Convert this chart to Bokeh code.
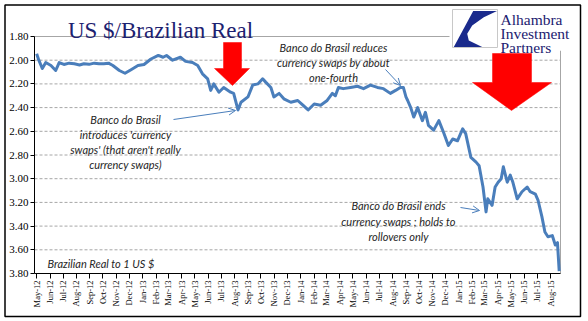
import math
import pandas as pd
from bokeh.plotting import figure
from bokeh.models import (Range1d, FixedTicker, DatetimeTickFormatter, PrintfTickFormatter,
                          Label, Arrow, OpenHead)
from bokeh.embed import file_html
from bokeh.resources import INLINE

# ---------------- data ----------------
dates = [
    "2012-05-01", "2012-05-06", "2012-05-14", "2012-05-22", "2012-06-03", "2012-06-14",
    "2012-06-22", "2012-07-03", "2012-07-15", "2012-07-27", "2012-08-08", "2012-08-18",
    "2012-08-30", "2012-09-11", "2012-09-22", "2012-10-03", "2012-10-14", "2012-10-24",
    "2012-11-08", "2012-11-21", "2012-12-05", "2012-12-21", "2013-01-04", "2013-01-20",
    "2013-02-06", "2013-02-17", "2013-02-25", "2013-03-11", "2013-03-29", "2013-04-10",
    "2013-04-26", "2013-05-08", "2013-05-19", "2013-05-31", "2013-06-07", "2013-06-14",
    "2013-06-26", "2013-07-07", "2013-07-23", "2013-07-30", "2013-08-09", "2013-08-16",
    "2013-09-01", "2013-09-12", "2013-09-24", "2013-10-05", "2013-10-12", "2013-10-24",
    "2013-10-31", "2013-11-12", "2013-11-23", "2013-12-09", "2013-12-25", "2014-01-06",
    "2014-01-18", "2014-02-01", "2014-02-16", "2014-03-03", "2014-03-15", "2014-03-22",
    "2014-03-29", "2014-04-09", "2014-04-26", "2014-05-12", "2014-05-26", "2014-06-11",
    "2014-06-27", "2014-07-11", "2014-07-27", "2014-08-08", "2014-08-19", "2014-08-26",
    "2014-09-01", "2014-09-05", "2014-09-12", "2014-09-19", "2014-09-28", "2014-10-09",
    "2014-10-16", "2014-10-23", "2014-11-04", "2014-11-16", "2014-11-27", "2014-12-08",
    "2014-12-18", "2014-12-29", "2015-01-10", "2015-01-17", "2015-01-29", "2015-02-10",
    "2015-02-17", "2015-02-26", "2015-03-05", "2015-03-09", "2015-03-19", "2015-03-26",
    "2015-04-02", "2015-04-09", "2015-04-14", "2015-04-23", "2015-04-30", "2015-05-06",
    "2015-05-16", "2015-05-27", "2015-06-08", "2015-06-15", "2015-06-27", "2015-07-03",
    "2015-07-12", "2015-07-19", "2015-07-26", "2015-08-05", "2015-08-12", "2015-08-17",
    "2015-08-21",
]
rates = [
    1.946, 2.000, 2.070, 2.020, 2.045, 2.087,
    2.020, 2.036, 2.025, 2.030, 2.040, 2.030,
    2.035, 2.025, 2.030, 2.030, 2.025, 2.045,
    2.087, 2.110, 2.080, 2.045, 2.036, 1.990,
    1.960, 1.975, 1.960, 2.000, 1.975, 2.010,
    2.020, 2.045, 2.115, 2.157, 2.255, 2.200,
    2.270, 2.230, 2.270, 2.280, 2.420, 2.355,
    2.310, 2.210, 2.200, 2.157, 2.185, 2.230,
    2.310, 2.280, 2.326, 2.355, 2.340, 2.380,
    2.420, 2.370, 2.380, 2.340, 2.280, 2.300,
    2.230, 2.240, 2.230, 2.220, 2.240, 2.210,
    2.230, 2.240, 2.280, 2.255, 2.230, 2.230,
    2.310, 2.340, 2.400, 2.480, 2.400, 2.510,
    2.440, 2.550, 2.590, 2.510, 2.610, 2.720,
    2.665, 2.680, 2.580, 2.620, 2.820, 2.860,
    2.890, 3.070, 3.280, 3.170, 3.225, 3.070,
    3.030, 3.000, 2.900, 3.030, 2.970, 3.030,
    3.170, 3.110, 3.070, 3.110, 3.130, 3.180,
    3.320, 3.450, 3.490, 3.480, 3.560, 3.540,
    3.780,
]
month_ticks = list(pd.date_range("2012-05-01", "2015-08-01", freq="MS"))
y_ticks = [1.80, 2.00, 2.20, 2.40, 2.60, 2.80, 3.00, 3.20, 3.40, 3.60, 3.80]

title_text = "US $/Brazilian Real"
logo_lines = ["Alhambra", "Investment", "Partners"]
note1 = ["Banco do Brasil", "introduces 'currency", "swaps' (that aren't really", "currency swaps)"]
note2 = ["Banco do Brasil reduces", "currency swaps by about", "one-fourth"]
note3 = ["Banco do Brasil ends", "currency swaps ; holds to", "rollovers only"]
note4 = "Brazilian Real to 1 US $"

# ---------------- layout helpers (pixel -> data) ----------------
W, H = 588, 321
FL, FR, FT, FB = 34, 560, 36, 273
X0 = pd.Timestamp("2012-04-26").value / 1e6
X1 = pd.Timestamp("2015-08-24").value / 1e6
Y0, Y1 = 1.80, 3.80


def xd(px):
    return X0 + (px - FL) / (FR - FL) * (X1 - X0)


def yd(py):
    return Y0 + (py - FT) / (FB - FT) * (Y1 - Y0)


p = figure(width=W, height=H, x_axis_type="datetime", output_backend="svg",
           toolbar_location=None, title=None,
           x_range=Range1d(xd(0), xd(W)), y_range=Range1d(yd(H), yd(0)),
           min_border_left=0, min_border_right=0, min_border_top=0,
           min_border_bottom=0)
p.background_fill_color = "white"
p.border_fill_color = "white"
p.outline_line_color = None
p.xgrid.visible = False
p.ygrid.visible = False

GRID = "#a6a6a6"
# dashed horizontal gridlines inside the plot area
grid_vals = [v for v in y_ticks if Y0 < v < Y1]
p.segment(x0=[xd(FL)] * len(grid_vals), x1=[xd(FR)] * len(grid_vals),
          y0=grid_vals, y1=grid_vals, line_color=GRID, line_width=1, line_dash="3 2")
# plot-area top and right borders
p.segment(x0=[xd(FL), xd(FR)], x1=[xd(450), xd(FR)], y0=[Y0, yd(50)], y1=[Y0, Y1],
          line_color=GRID, line_width=1)

# red block arrows
arrow1 = [(223, 42), (241, 42), (241, 68), (249, 68), (232, 85), (214, 68), (223, 68)]
arrow2 = [(492, 53), (531, 53), (531, 82), (551, 82), (511, 110), (472, 82), (492, 82)]
for poly in (arrow1, arrow2):
    p.patch([xd(a) for a, b in poly], [yd(b) for a, b in poly],
            fill_color="#FF0000", line_color="#FF0000", line_width=0.5)

# the series
x = pd.to_datetime(dates)
p.line(x, rates, line_color="#4A7EBB", line_width=3, line_join="round")

# axes, placed at fixed locations inside the canvas
tick_ms = [t.value / 1e6 for t in month_ticks]
xa = p.xaxis[0]
xa.fixed_location = Y1
xa.bounds = (xd(FL), xd(FR))
xa.ticker = FixedTicker(ticks=tick_ms)
fmt = "%b-%y"
xa.formatter = DatetimeTickFormatter(
    microseconds=fmt, milliseconds=fmt, seconds=fmt, minsec=fmt, minutes=fmt,
    hourmin=fmt, hours=fmt, days=fmt, months=fmt, years=fmt)
xa.major_label_orientation = math.pi / 2
xa.major_label_text_font = "Liberation Serif"
xa.major_label_text_font_size = "8.5px"
xa.major_label_text_color = "black"
xa.major_label_standoff = 2
xa.major_tick_out = 5
xa.major_tick_in = 0
xa.minor_tick_out = 0
xa.minor_tick_in = 0
xa.axis_line_color = "black"
xa.major_tick_line_color = "black"

ya = p.yaxis[0]
ya.fixed_location = xd(FL)
ya.bounds = (Y0, Y1)
ya.ticker = FixedTicker(ticks=y_ticks)
ya.formatter = PrintfTickFormatter(format="%.2f")
ya.major_label_text_font = "Liberation Serif"
ya.major_label_text_font_size = "11px"
ya.major_label_text_color = "black"
ya.major_label_standoff = 2
ya.major_tick_out = 4
ya.major_tick_in = 0
ya.minor_tick_out = 0
ya.minor_tick_in = 0
ya.axis_line_color = "black"
ya.major_tick_line_color = "black"

# annotation texts
TXT = "#262626"


def add_lines(lines, cx, ys, align="center"):
    for t, yy in zip(lines, ys):
        p.add_layout(Label(x=xd(cx), y=yd(yy), text=t, text_align=align,
                           text_baseline="middle", text_font="Lato",
                           text_font_style="italic", text_font_size="11px",
                           text_color=TXT))


add_lines(note1, 125, [119, 134, 149, 164])
add_lines(note2, 333, [47, 62, 77])
add_lines(note3, 398, [205, 221, 236])
add_lines([note4], 47, [263], align="left")

for (xa0, ya0, xb, yb) in [(173, 119, 235, 110), (385, 69, 400, 85), (460, 207, 479, 210)]:
    p.add_layout(Arrow(end=OpenHead(size=7, line_color="#4A7EBB", line_width=1),
                       x_start=xd(xa0), y_start=yd(ya0), x_end=xd(xb), y_end=yd(yb),
                       line_color="#4A7EBB", line_width=1))

# title
p.add_layout(Label(x=xd(160), y=yd(30), text=title_text, text_align="center",
                   text_baseline="alphabetic", text_font="Liberation Serif",
                   text_font_size="23px", text_color="#1C2170"))

# logo
p.quad(left=xd(449), right=xd(577), top=yd(6), bottom=yd(50),
       fill_color="white", line_color=None)
p.quad(left=xd(452), right=xd(497), top=yd(9), bottom=yd(47),
       fill_color="white", line_color="#c8c8c8", line_width=1)
swoosh = [(472.7, 10.5), (496.5, 10.5), (483.3, 16.7), (471.7, 25), (466.7, 33.3),
          (468.3, 40), (481.7, 46.5), (453.3, 46.5)]
p.patch([xd(a) for a, b in swoosh], [yd(b) for a, b in swoosh],
        fill_color="#1A2A8C", line_color=None)
for t, yy in zip(logo_lines, [18.5, 33, 47]):
    p.add_layout(Label(x=xd(500), y=yd(yy), text=t, text_align="left",
                       text_baseline="alphabetic", text_font="Liberation Serif",
                       text_font_size="15.5px", text_color="#1C2170"))

# outer border of the picture
p.quad(left=xd(4.5), right=xd(580), top=yd(4.5), bottom=yd(316),
       fill_alpha=0, line_color="black", line_width=1.5)

open("out.html", "w").write(file_html(p, INLINE))
